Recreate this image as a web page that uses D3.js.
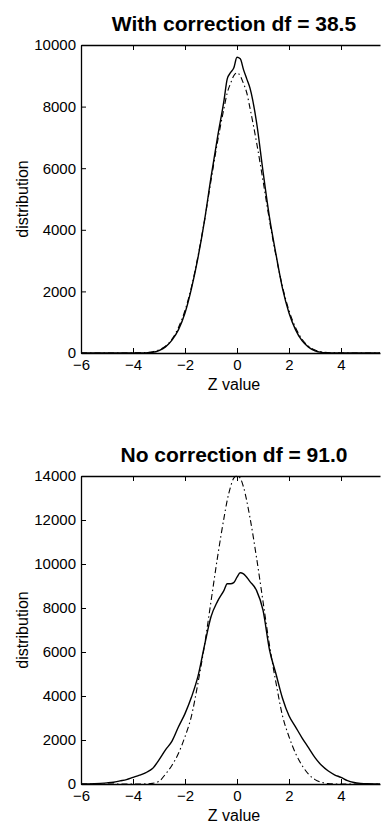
<!DOCTYPE html>
<html>
<head>
<meta charset="utf-8">
<script src="https://cdn.jsdelivr.net/npm/d3@7"></script>
<style>
  body { margin: 0; background: #fff; }
  svg { display: block; }
  text { font-family: "Liberation Sans", Arial, sans-serif; fill: #000; }
</style>
</head>
<body>
<script>
const zTop = [-6, -5, -4, -3.75, -3.5, -3.25, -3, -2.75, -2.5, -2.25, -2, -1.75, -1.5, -1.25, -1, -0.75, -0.5, -0.375, -0.25, -0.125, 0, 0.125, 0.25, 0.375, 0.5, 0.75, 1, 1.25, 1.5, 1.75, 2, 2.25, 2.5, 2.75, 3, 3.25, 3.5, 3.75, 4, 5, 5.5];
// with correction: observed (solid) and fitted t, df = 38.5 (dash-dot)
const topObserved = [0, 0, 0, 0, 5, 20, 80, 200, 420, 760, 1300, 2100, 3100, 4300, 5700, 7000, 8200, 8900, 9100, 9250, 9600, 9550, 9200, 8900, 8600, 7500, 5900, 4400, 3200, 2100, 1300, 760, 400, 190, 70, 20, 5, 0, 0, 0, 0];
const topFit = [0, 0, 2, 6, 15, 40, 100, 220, 450, 830, 1380, 2150, 3150, 4300, 5600, 6850, 7950, 8450, 8750, 9000, 9100, 9000, 8750, 8450, 7950, 6850, 5600, 4300, 3150, 2150, 1380, 830, 450, 220, 100, 40, 15, 6, 2, 0, 0];

const zBot = [-6, -5.75, -5.5, -5.25, -5, -4.75, -4.5, -4.25, -4, -3.75, -3.5, -3.25, -3, -2.75, -2.5, -2.25, -2, -1.75, -1.5, -1.25, -1, -0.75, -0.5, -0.375, -0.25, -0.125, 0, 0.125, 0.25, 0.5, 0.75, 1, 1.25, 1.5, 1.75, 2, 2.25, 2.5, 2.75, 3, 3.25, 3.5, 3.75, 4, 4.25, 4.5, 4.75, 5, 5.5];
// no correction: observed (solid) and fitted t, df = 91.0 (dash-dot)
const botObserved = [0, 5, 15, 30, 50, 80, 140, 200, 300, 400, 520, 700, 1100, 1550, 1950, 2600, 3200, 3950, 4900, 6300, 7600, 8300, 8800, 9100, 9100, 9150, 9400, 9600, 9550, 9200, 8800, 7900, 6100, 5000, 3900, 3100, 2600, 2100, 1650, 1200, 850, 600, 420, 300, 150, 70, 30, 10, 0];
const botFit = [0, 0, 0, 0, 0, 0, 0, 0, 0, 0, 5, 30, 120, 450, 850, 1400, 2150, 3100, 4600, 6300, 8300, 10300, 12100, 12900, 13500, 13900, 14000, 13900, 13500, 12100, 10300, 8300, 6300, 4600, 3100, 2150, 1400, 850, 450, 200, 80, 20, 5, 0, 0, 0, 0, 0, 0];

const xTicks = [-6, -4, -2, 0, 2, 4];
const yTicksTop = [0, 2000, 4000, 6000, 8000, 10000];
const yTicksBot = [0, 2000, 4000, 6000, 8000, 10000, 12000, 14000];

const svg = d3.select("body").append("svg")
  .attr("width", 381)
  .attr("height", 823);

function panel(opt) {
  const x = d3.scaleLinear().domain([-6, 5.5]).range([81, 380]);
  const y = d3.scaleLinear().domain([0, opt.ymax]).range([opt.bottom, opt.top]);
  const g = svg.append("g");

  g.append("text")
    .attr("x", 234).attr("y", opt.top - 14)
    .attr("text-anchor", "middle")
    .style("font-size", "21px").style("font-weight", "bold")
    .text(opt.title);

  // top border with inward ticks
  g.append("g")
    .attr("transform", `translate(0,${opt.top})`)
    .call(d3.axisTop(x).tickValues(xTicks).tickSize(-5).tickSizeOuter(0).tickFormat(""));

  const xa = g.append("g")
    .attr("transform", `translate(0,${opt.bottom})`)
    .call(d3.axisBottom(x).tickValues(xTicks).tickSize(-5).tickSizeOuter(0).tickPadding(6));
  xa.selectAll("text").style("font-size", "15px").style("font-family", "Liberation Sans, Arial, sans-serif");

  const ya = g.append("g")
    .attr("transform", "translate(81,0)")
    .call(d3.axisLeft(y).tickValues(opt.yticks).tickSize(-5).tickSizeOuter(0).tickPadding(5).tickFormat(d3.format("d")));
  ya.selectAll("text").style("font-size", "15px").style("font-family", "Liberation Sans, Arial, sans-serif");

  g.selectAll(".domain").attr("stroke", "#000").attr("stroke-width", 1.3);
  g.selectAll(".tick line").attr("stroke", "#000");

  g.append("text")
    .attr("x", 234).attr("y", opt.bottom + 37)
    .attr("text-anchor", "middle")
    .style("font-size", "16px")
    .text("Z value");

  g.append("text")
    .attr("transform", `translate(28,${(opt.top + opt.bottom) / 2}) rotate(-90)`)
    .attr("text-anchor", "middle")
    .style("font-size", "16px")
    .text("distribution");

  const line = d3.line()
    .x(d => x(d[0]))
    .y(d => y(d[1]))
    .curve(d3.curveMonotoneX);

  g.append("path")
    .datum(d3.zip(opt.z, opt.fit))
    .attr("fill", "none")
    .attr("stroke", "#000")
    .attr("stroke-width", 1.1)
    .attr("stroke-dasharray", "6,3,1.5,3")
    .attr("d", line);

  g.append("path")
    .datum(d3.zip(opt.z, opt.obs))
    .attr("fill", "none")
    .attr("stroke", "#000")
    .attr("stroke-width", 1.4)
    .attr("d", line);
}

panel({ title: "With correction df = 38.5", top: 45, bottom: 353, ymax: 10000, yticks: yTicksTop, z: zTop, obs: topObserved, fit: topFit });
panel({ title: "No correction df = 91.0", top: 476, bottom: 784, ymax: 14000, yticks: yTicksBot, z: zBot, obs: botObserved, fit: botFit });
</script>
</body>
</html>
